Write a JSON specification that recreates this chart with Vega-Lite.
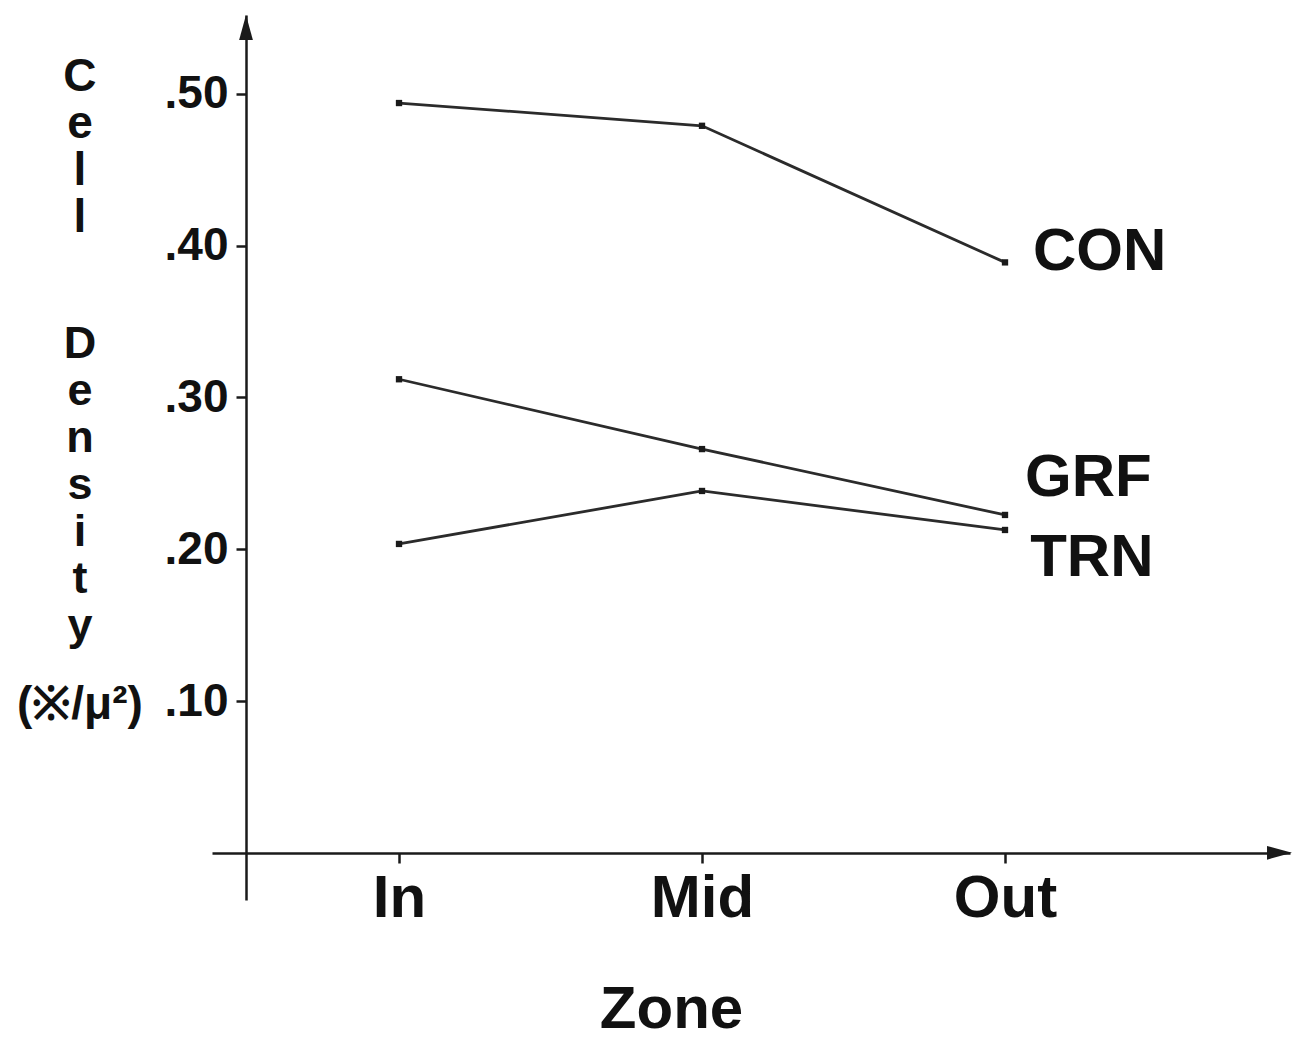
{
  "$schema": "https://vega.github.io/schema/vega-lite/v6.json",
  "width": 1078,
  "height": 885,
  "padding": {"left": 212, "top": 15, "right": 3, "bottom": 139},
  "autosize": {"type": "none"},
  "background": "white",
  "config": {
    "view": {"stroke": null},
    "font": "Liberation Sans",
    "axis": {"grid": false}
  },
  "datasets": {
    "series": [
      {"group": "CON", "zone": 1, "density": 0.494},
      {"group": "CON", "zone": 2, "density": 0.479},
      {"group": "CON", "zone": 3, "density": 0.389},
      {"group": "GRF", "zone": 1, "density": 0.312},
      {"group": "GRF", "zone": 2, "density": 0.266},
      {"group": "GRF", "zone": 3, "density": 0.2226},
      {"group": "TRN", "zone": 1, "density": 0.2035},
      {"group": "TRN", "zone": 2, "density": 0.2384},
      {"group": "TRN", "zone": 3, "density": 0.2127}
    ],
    "labels": [
      {"group": "CON", "zone": 3.092, "density": 0.3837},
      {"group": "GRF", "zone": 3.066, "density": 0.2351},
      {"group": "TRN", "zone": 3.083, "density": 0.1824}
    ]
  },
  "layer": [
    {
      "data": {"name": "series"},
      "mark": {"type": "line", "color": "#2b2b2b", "strokeWidth": 2.8},
      "encoding": {
        "x": {
          "field": "zone",
          "type": "quantitative",
          "scale": {"domain": [0.3828, 3.9406], "nice": false, "zero": false},
          "axis": {
            "values": [1, 2, 3],
            "labelExpr": "datum.value == 1 ? 'In' : datum.value == 2 ? 'Mid' : 'Out'",
            "offset": -47,
            "domainColor": "#1a1a1a",
            "domainWidth": 2.5,
            "tickColor": "#1a1a1a",
            "tickWidth": 2.5,
            "tickSize": 10,
            "labelFont": "Liberation Sans",
            "labelFontWeight": "bold",
            "labelFontSize": 60,
            "labelColor": "#111",
            "labelPadding": 6,
            "title": "Zone",
            "titleFont": "Liberation Sans",
            "titleFontWeight": "bold",
            "titleFontSize": 60,
            "titleColor": "#111",
            "titleAlign": "center",
            "titleBaseline": "alphabetic",
            "titleX": 459,
            "titleY": 174
          }
        },
        "y": {
          "field": "density",
          "type": "quantitative",
          "scale": {"domain": [-0.0311, 0.552], "nice": false, "zero": false},
          "axis": {
            "values": [0.1, 0.2, 0.3, 0.4, 0.5],
            "format": ".2f",
            "labelExpr": "replace(datum.label, '0.', '.')",
            "offset": -34,
            "domainColor": "#1a1a1a",
            "domainWidth": 2.5,
            "tickColor": "#1a1a1a",
            "tickWidth": 2.5,
            "tickSize": 10,
            "labelFont": "Liberation Sans",
            "labelFontWeight": "bold",
            "labelFontSize": 46,
            "labelColor": "#111",
            "labelPadding": 8,
            "title": null
          }
        },
        "detail": {"field": "group"}
      }
    },
    {
      "data": {"name": "series"},
      "mark": {"type": "point", "shape": "square", "filled": true, "color": "#1a1a1a", "size": 40, "opacity": 1},
      "encoding": {
        "x": {"field": "zone", "type": "quantitative"},
        "y": {"field": "density", "type": "quantitative"}
      }
    },
    {
      "data": {"name": "labels"},
      "mark": {"type": "text", "align": "left", "baseline": "alphabetic", "font": "Liberation Sans", "fontWeight": "bold", "fontSize": 60, "color": "#111"},
      "encoding": {
        "x": {"field": "zone", "type": "quantitative"},
        "y": {"field": "density", "type": "quantitative"},
        "text": {"field": "group"}
      }
    },
    {
      "data": {"values": [{}]},
      "mark": {"type": "text", "text": ["C", "e", "l", "l"], "align": "center", "baseline": "top", "lineHeight": 47, "font": "Liberation Sans", "fontWeight": "bold", "fontSize": 46, "color": "#111"},
      "encoding": {
        "x": {"datum": -0.053, "type": "quantitative"},
        "y": {"datum": 0.5257, "type": "quantitative"}
      }
    },
    {
      "data": {"values": [{}]},
      "mark": {"type": "text", "text": ["D", "e", "n", "s", "i", "t", "y"], "align": "center", "baseline": "top", "lineHeight": 47, "font": "Liberation Sans", "fontWeight": "bold", "fontSize": 45, "color": "#111"},
      "encoding": {
        "x": {"datum": -0.053, "type": "quantitative"},
        "y": {"datum": 0.3498, "type": "quantitative"}
      }
    },
    {
      "data": {"values": [{}]},
      "mark": {"type": "text", "text": "(※/μ²)", "align": "center", "baseline": "middle", "font": "Liberation Sans", "fontWeight": "bold", "fontSize": 46, "color": "#111"},
      "encoding": {
        "x": {"datum": -0.053, "type": "quantitative"},
        "y": {"datum": 0.0974, "type": "quantitative"}
      }
    },
    {
      "data": {"values": [{}]},
      "mark": {"type": "point", "shape": "M0,-1L0.55,1L-0.55,1Z", "filled": true, "color": "#1a1a1a", "size": 625, "opacity": 1},
      "encoding": {
        "x": {"datum": 0.495, "type": "quantitative"},
        "y": {"datum": 0.5438, "type": "quantitative"}
      }
    },
    {
      "data": {"values": [{}]},
      "mark": {"type": "point", "shape": "M1,0L-1,-0.55L-1,0.55Z", "filled": true, "color": "#1a1a1a", "size": 625, "opacity": 1},
      "encoding": {
        "x": {"datum": 3.906, "type": "quantitative"},
        "y": {"datum": 0, "type": "quantitative"}
      }
    }
  ]
}
